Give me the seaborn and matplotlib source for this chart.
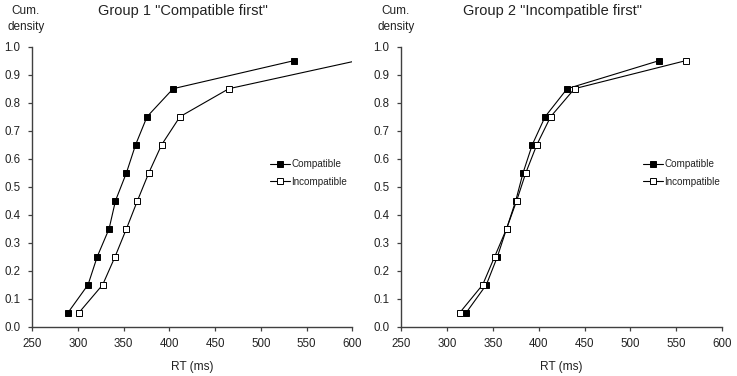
import numpy as np
import pandas as pd
import matplotlib
matplotlib.use("Agg")
import matplotlib.pyplot as plt
import seaborn as sns

# cumulative density levels (vincentized RT quantiles)
levels = [0.05, 0.15, 0.25, 0.35, 0.45, 0.55, 0.65, 0.75, 0.85, 0.95]

# Group 1 "Compatible first"
g1_compatible = [289, 311, 321, 334, 341, 353, 363, 375.5, 404, 536]
g1_incompatible = [301, 327, 340.5, 353, 365, 377.5, 391.5, 411.5, 465, 605]

# Group 2 "Incompatible first"
g2_compatible = [321, 343, 355, 365, 375, 383, 393, 407, 431, 531]
g2_incompatible = [314, 339, 352, 365, 376, 386, 398, 413, 439, 560]

titles = ['Group 1 "Compatible first"', 'Group 2 "Incompatible first"']
x_ticks = [250, 300, 350, 400, 450, 500, 550, 600]
y_ticks = [0.0, 0.1, 0.2, 0.3, 0.4, 0.5, 0.6, 0.7, 0.8, 0.9, 1.0]

sns.set_theme(style="ticks")
plt.rcParams['font.family'] = ['Liberation Sans', 'DejaVu Sans']

W, H = 737, 376
fig = plt.figure(figsize=(W / 100, H / 100), dpi=100)

axc = '#404040'
txt = '#222222'
# axes boxes in pixels: left, right
boxes = [(32.3, 352.3), (401, 722.3)]
y_top, y_bot = 46.7, 326.7
legend_x = [0.743, 0.753]
title_x = [182.5, 552.5]
cum_x = [26, 396]

groups = [(g1_compatible, g1_incompatible), (g2_compatible, g2_incompatible)]

for i, (comp, incomp) in enumerate(groups):
    x0, x1 = boxes[i]
    ax = fig.add_axes([x0 / W, 1 - y_bot / H, (x1 - x0) / W, (y_bot - y_top) / H])
    df = pd.DataFrame({'rt': comp + incomp,
                       'dens': levels + levels,
                       'cond': ['Compatible'] * 10 + ['Incompatible'] * 10})
    sns.lineplot(data=df[df.cond == 'Compatible'], x='rt', y='dens', ax=ax,
                 color='black', lw=0.8, marker='s', markersize=4.6,
                 markerfacecolor='black', markeredgecolor='black', markeredgewidth=0.7,
                 sort=False, estimator=None, label='Compatible')
    sns.lineplot(data=df[df.cond == 'Incompatible'], x='rt', y='dens', ax=ax,
                 color='black', lw=0.8, marker='s', markersize=4.6,
                 markerfacecolor='white', markeredgecolor='black', markeredgewidth=0.7,
                 sort=False, estimator=None, label='Incompatible')

    ax.set_xlim(250, 600)
    ax.set_ylim(0, 1.0)
    ax.set_xticks(x_ticks)
    ax.set_yticks(y_ticks)
    ax.set_yticklabels([f'{v:.1f}' for v in y_ticks])
    ax.set_xlabel('RT (ms)', fontsize=8.6, color=txt, labelpad=8)
    ax.set_ylabel('')
    for s in ['top', 'right']:
        ax.spines[s].set_visible(False)
    for s in ['left', 'bottom']:
        ax.spines[s].set_color(axc)
        ax.spines[s].set_linewidth(1.0)
    ax.tick_params(axis='both', colors=axc, labelcolor=txt, labelsize=8.3,
                   length=3, width=0.9, direction='out')
    ax.tick_params(axis='x', pad=5)
    ax.tick_params(axis='y', pad=5.5)

    leg = ax.legend(loc='upper left', bbox_to_anchor=(legend_x[i], 0.598), frameon=False,
                    fontsize=7.1, handlelength=2.0, handletextpad=0.15, labelspacing=0.75,
                    borderpad=0, borderaxespad=0)
    for t in leg.get_texts():
        t.set_color(txt)

    fig.text(title_x[i] / W, 1 - 11 / H, titles[i], ha='center', va='center',
             fontsize=10.5, color=txt)
    fig.text(cum_x[i] / W, 1 - 18.8 / H, 'Cum.\ndensity', ha='center', va='center',
             fontsize=8.5, color=txt, linespacing=1.4)

fig.savefig('out.png', dpi=100)
